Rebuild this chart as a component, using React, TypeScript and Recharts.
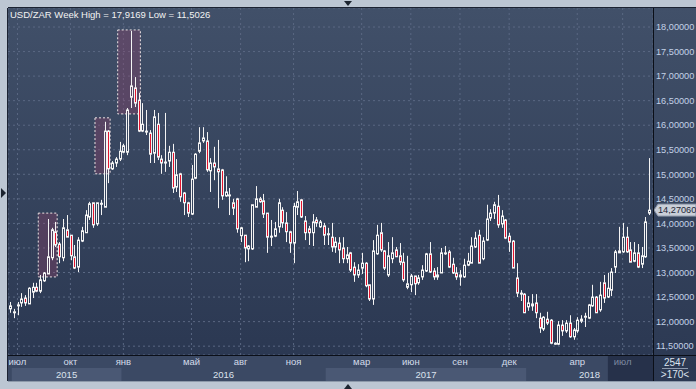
import React from 'react';
import { ComposedChart, Bar, XAxis, YAxis, CartesianGrid, ReferenceArea, ReferenceLine } from 'recharts';

// weekly USD/ZAR candles (Jun 2015 .. Aug 2018)
const OPEN = [
  12.26, 12.18, 12.32, 12.38, 12.48, 12.36, 12.60, 12.70, 12.62, 12.83,
  12.97, 13.30, 13.83, 13.58, 13.30, 13.87, 13.76, 13.32, 13.11, 13.64,
  13.81, 14.13, 14.42, 13.99, 14.40, 14.33, 15.88, 15.11, 15.23, 15.31,
  15.45, 15.45, 16.57, 16.76, 16.51, 15.88, 15.87, 15.84, 15.43, 16.02,
  15.31, 15.24, 15.27, 15.45, 14.74, 15.01, 14.62, 14.42, 14.19, 14.92,
  15.47, 15.68, 15.68, 15.07, 15.23, 15.11, 15.09, 14.56, 14.57, 14.42,
  14.50, 13.75, 13.76, 13.48, 13.48, 14.33, 14.50, 14.46, 14.21, 13.73,
  13.74, 13.93, 14.27, 14.01, 13.83, 13.60, 14.33, 14.48, 14.05, 13.89,
  13.81, 14.07, 13.93, 13.95, 13.78, 13.72, 13.52, 13.60, 13.50, 13.28,
  13.40, 13.11, 12.95, 13.09, 13.19, 12.75, 12.46, 13.38, 13.81, 13.44,
  12.95, 13.28, 13.46, 13.34, 13.21, 12.70, 12.75, 12.93, 12.79, 12.91,
  13.03, 13.38, 13.03, 12.91, 12.99, 13.38, 13.42, 13.17, 12.99, 12.95,
  12.91, 13.15, 13.19, 13.52, 13.76, 13.28, 13.66, 14.11, 14.21, 14.35,
  13.99, 14.07, 13.74, 13.64, 12.89, 12.57, 12.56, 12.30, 12.32, 12.38,
  12.07, 11.85, 12.05, 12.03, 11.55, 11.54, 11.93, 11.81, 11.97, 11.69,
  11.81, 12.01, 12.09, 12.07, 12.32, 12.50, 12.24, 12.79, 12.50, 12.64,
  13.11, 13.44, 13.42, 13.72, 13.46, 13.23, 13.40, 13.17, 13.32, 14.21,
];
const HIGH = [
  12.40, 12.26, 12.40, 12.58, 12.54, 12.70, 12.79, 12.79, 12.95, 13.01,
  14.09, 13.91, 14.03, 13.62, 14.09, 14.17, 13.76, 13.56, 13.72, 13.93,
  14.27, 14.44, 14.42, 14.42, 14.48, 16.07, 15.90, 15.27, 15.35, 15.66,
  15.62, 16.35, 17.92, 16.98, 16.66, 16.45, 16.31, 15.90, 16.31, 16.25,
  15.39, 16.25, 15.58, 15.62, 15.31, 15.03, 14.64, 14.44, 15.19, 15.43,
  15.96, 15.96, 15.86, 15.33, 15.56, 15.70, 15.11, 14.96, 14.72, 14.50,
  14.52, 13.93, 13.76, 13.56, 14.38, 14.76, 14.54, 14.60, 14.21, 14.07,
  14.03, 14.50, 14.33, 14.23, 13.85, 14.42, 14.66, 14.50, 14.15, 13.95,
  14.19, 14.13, 14.07, 14.01, 13.91, 14.01, 13.72, 13.72, 13.72, 13.52,
  13.42, 13.21, 13.17, 13.40, 13.21, 12.75, 13.66, 13.97, 14.01, 13.46,
  13.62, 13.72, 13.52, 13.60, 13.40, 13.34, 12.97, 12.93, 12.95, 13.15,
  13.40, 13.62, 13.09, 13.11, 13.50, 13.54, 13.46, 13.30, 13.11, 13.05,
  13.28, 13.40, 13.72, 13.83, 13.87, 13.72, 14.38, 14.29, 14.44, 14.58,
  14.27, 14.09, 13.81, 13.66, 13.19, 12.64, 12.58, 12.52, 12.56, 12.56,
  12.18, 12.11, 12.20, 12.05, 11.58, 12.01, 12.03, 12.03, 12.13, 11.87,
  12.09, 12.13, 12.18, 12.36, 12.75, 12.52, 12.81, 12.95, 12.99, 13.09,
  13.46, 13.93, 14.01, 13.93, 13.62, 13.62, 13.58, 13.52, 14.13, 15.33,
];
const LOW = [
  12.18, 12.07, 12.13, 12.30, 12.32, 12.36, 12.48, 12.60, 12.58, 12.81,
  12.97, 13.25, 13.52, 13.19, 13.23, 13.72, 13.25, 13.07, 13.01, 13.62,
  13.81, 14.07, 13.91, 13.95, 14.17, 14.33, 14.82, 15.09, 15.15, 15.27,
  15.43, 15.39, 16.35, 16.37, 15.86, 15.86, 15.80, 15.23, 15.23, 15.29,
  15.01, 15.05, 15.15, 14.62, 14.64, 14.44, 14.17, 14.13, 14.17, 14.90,
  15.43, 15.64, 15.05, 14.64, 14.88, 14.31, 14.48, 14.54, 14.17, 14.17,
  13.81, 13.62, 13.21, 13.23, 13.46, 14.33, 14.42, 14.11, 13.40, 13.54,
  13.72, 13.81, 13.91, 13.62, 13.40, 13.19, 14.17, 14.11, 13.66, 13.56,
  13.54, 13.93, 13.91, 13.56, 13.56, 13.42, 13.40, 13.19, 13.19, 13.19,
  13.01, 12.81, 12.89, 12.97, 12.70, 12.42, 12.34, 13.36, 13.42, 13.05,
  12.91, 13.19, 13.32, 13.15, 12.81, 12.66, 12.60, 12.54, 12.75, 12.85,
  13.01, 12.99, 12.85, 12.85, 12.99, 13.36, 13.09, 12.97, 12.85, 12.73,
  12.89, 13.13, 13.19, 13.50, 13.19, 13.25, 13.64, 14.05, 14.09, 13.91,
  13.91, 13.68, 13.42, 13.09, 12.50, 12.42, 12.18, 12.22, 12.22, 12.07,
  11.77, 11.81, 11.93, 11.54, 11.53, 11.52, 11.71, 11.77, 11.67, 11.63,
  11.77, 11.97, 11.89, 12.05, 12.30, 12.18, 12.20, 12.38, 12.48, 12.52,
  12.99, 13.40, 13.40, 13.40, 13.21, 13.21, 13.09, 13.09, 13.30, 14.17,
];
const CLOSE = [
  12.32, 12.20, 12.34, 12.46, 12.38, 12.68, 12.70, 12.62, 12.85, 12.99,
  13.32, 13.87, 13.56, 13.32, 13.91, 13.72, 13.34, 13.09, 13.66, 13.85,
  14.17, 14.40, 13.97, 14.42, 14.41, 15.88, 15.11, 15.23, 15.31, 15.47,
  15.58, 16.31, 16.80, 16.45, 15.88, 16.02, 15.88, 15.41, 16.17, 15.35,
  15.23, 15.25, 15.45, 14.72, 14.99, 14.54, 14.42, 14.21, 14.90, 15.41,
  15.64, 15.74, 15.09, 15.23, 15.15, 15.05, 14.56, 14.64, 14.58, 14.31,
  13.89, 13.91, 13.50, 13.54, 14.38, 14.50, 14.44, 14.19, 13.72, 13.74,
  13.89, 14.42, 14.01, 13.83, 13.60, 14.35, 14.44, 14.13, 13.81, 13.81,
  14.03, 14.01, 14.03, 13.76, 13.79, 13.52, 13.62, 13.46, 13.28, 13.36,
  13.05, 12.95, 13.05, 13.19, 12.73, 12.46, 13.44, 13.76, 13.46, 13.09,
  13.34, 13.40, 13.32, 13.21, 12.85, 12.77, 12.93, 12.77, 12.89, 13.05,
  13.38, 13.01, 12.91, 12.95, 13.40, 13.40, 13.11, 12.99, 12.91, 12.91,
  13.15, 13.23, 13.54, 13.70, 13.19, 13.64, 14.09, 14.21, 14.38, 13.97,
  14.15, 13.70, 13.62, 13.09, 12.58, 12.58, 12.18, 12.38, 12.36, 12.18,
  11.87, 12.09, 11.97, 11.56, 11.56, 11.93, 11.81, 11.97, 11.69, 11.83,
  12.03, 12.05, 12.11, 12.34, 12.50, 12.18, 12.54, 12.48, 12.68, 13.01,
  13.42, 13.40, 13.72, 13.42, 13.21, 13.40, 13.11, 13.34, 14.03, 14.27,
];

const Y_TICKS = [11.5, 12, 12.5, 13, 13.5, 14, 14.5, 15, 15.5, 16, 16.5, 17, 17.5, 18];
const MONTH_IDX = [2, 16, 30, 48, 61, 75, 93, 106, 119, 132, 150, 162];
const MONTH_LABELS = ['июл', 'окт', 'янв', 'май', 'авг', 'ноя', 'мар', 'июн', 'сен', 'дек', 'апр', 'июл'];
const YEAR_START = [1, 30, 84, 137];
const YEAR_END = [30, 84, 137, 170];
const YEAR_LABELS = ['2015', '2016', '2017', '2018'];

// highlighted patterns
const HL_FROM = [8, 23, 29];
const HL_TO = [12, 26, 34];
const HL_LOW = [12.91, 15.01, 16.23];
const HL_HIGH = [14.21, 16.15, 17.94];

const LAST_PRICE = 14.2706;
const TITLE = 'USD/ZAR Week High = 17,9169 Low = 11,5026';
const BAR_TOTAL = '2547';
const BAR_SHOWN = '>170<';

const data = OPEN.map((o, i) => ({ i, open: o, high: HIGH[i], low: LOW[i], close: CLOSE[i] }));

const W = 696;
const H = 389;
const PLOT_L = 8;
const PLOT_T = 8;
const PLOT_R = 653;
const PLOT_B = 355;
const PAD_R = 2;
const STEP = (PLOT_R - PLOT_L - PAD_R) / data.length;
const DARK_FROM = 158.6;
const FONT = '"Liberation Sans", Arial, sans-serif';

const fmt = (v: number) => v.toFixed(5).replace('.', ',');

function Candle(props: any) {
  const { x, y, width, height, payload } = props;
  const { open, close, high, low } = payload;
  const yHigh = height < 0 ? y + height : y;
  const h = Math.abs(height);
  const k = high === low ? 0 : h / (high - low);
  const yO = yHigh + (high - open) * k;
  const yC = yHigh + (high - close) * k;
  const top = Math.min(yO, yC);
  const bot = Math.max(yO, yC);
  const c = Math.round(x + width / 2);
  const up = close >= open;
  return (
    <g>
      {top > yHigh && <line x1={c + 0.5} x2={c + 0.5} y1={yHigh} y2={top} stroke="#f4f4f4" />}
      {bot < yHigh + h && <line x1={c + 0.5} x2={c + 0.5} y1={bot} y2={yHigh + h} stroke="#f4f4f4" />}
      <rect
        x={c - 0.5}
        y={top}
        width={2}
        height={Math.max(bot - top, 1)}
        fill={up ? 'none' : '#e3142e'}
        stroke="#f4f4f4"
        strokeWidth={1}
      />
    </g>
  );
}

function MonthTick(props: any) {
  const { x, y, payload } = props;
  const k = MONTH_IDX.indexOf(payload.value);
  const last = k === MONTH_IDX.length - 1;
  const dx = PLOT_L + DARK_FROM * STEP;
  return (
    <g>
      {last && <rect x={dx} y={y + 1} width={PLOT_R - dx} height={12} fill="#26314a" />}
      <text
        x={x}
        y={y + 10}
        textAnchor="middle"
        fontSize={9.5}
        fontFamily={FONT}
        fill={last ? '#7d89a0' : '#d3dcea'}
      >
        {MONTH_LABELS[k]}
      </text>
    </g>
  );
}

function YearTick(props: any) {
  const { x, y, payload } = props;
  const k = YEAR_START.indexOf(payload.value);
  const lastBand = k === YEAR_START.length - 1;
  const x0 = x - STEP / 2;
  const w = (YEAR_END[k] - YEAR_START[k]) * STEP + (lastBand ? PAD_R : 0);
  const dx = PLOT_L + DARK_FROM * STEP;
  return (
    <g>
      {k % 2 === 0 && <rect x={x0} y={y} width={w} height={13} fill="#4a5874" />}
      {lastBand && <rect x={dx} y={y} width={PLOT_R - dx} height={13} fill="#26314a" />}
      <text x={x0 + w / 2} y={y + 10} textAnchor="middle" fontSize={9.5} fontFamily={FONT} fill="#dbe3ee">
        {YEAR_LABELS[k]}
      </text>
    </g>
  );
}

function PriceTag(props: any) {
  const vb = props.viewBox || {};
  const x = vb.x + vb.width;
  const y = vb.y;
  return (
    <g>
      <polygon
        points={`${x + 1},${y} ${x + 5},${y - 6} ${W},${y - 6} ${W},${y + 6} ${x + 5},${y + 6}`}
        fill="#c9ced8"
        stroke="#8a94a6"
      />
      <text x={x + 5} y={y + 3.3} fontSize={9.2} fontFamily={FONT} fill="#1e2636">
        {fmt(LAST_PRICE)}
      </text>
    </g>
  );
}

export default function App() {
  return (
    <div style={{ position: 'fixed', left: 0, top: 0, width: W, height: H, background: '#bcc6d3', overflow: 'hidden' }}>
      <div
        style={{
          position: 'absolute', left: PLOT_L, top: PLOT_T, width: PLOT_R - PLOT_L, height: PLOT_B - PLOT_T,
          background: 'linear-gradient(#415069, #2b3852)',
        }}
      />
      <div
        style={{
          position: 'absolute', left: PLOT_R, top: PLOT_T, width: W - PLOT_R, height: 381 - PLOT_T,
          background: 'linear-gradient(#415069, #2b3852)',
        }}
      />
      <div style={{ position: 'absolute', left: PLOT_L, top: PLOT_B, width: PLOT_R - PLOT_L, height: 26, background: '#3b4964' }} />

      <div style={{ position: 'absolute', left: 0, top: 0 }}>
        <ComposedChart
          width={W}
          height={H}
          data={data}
          margin={{ top: PLOT_T, left: PLOT_L, right: 0, bottom: H - 381 }}
          barCategoryGap={0}
        >
          <CartesianGrid stroke="#5a6883" strokeDasharray="2 3" />
          <XAxis
            dataKey="i"
            type="category"
            ticks={MONTH_IDX}
            interval={0}
            tick={<MonthTick />}
            tickSize={0}
            tickMargin={0}
            height={13}
            axisLine={false}
            tickLine={false}
            padding={{ left: 0, right: PAD_R }}
          />
          <XAxis
            xAxisId="yr"
            dataKey="i"
            type="category"
            ticks={YEAR_START}
            interval={0}
            tick={<YearTick />}
            tickSize={0}
            tickMargin={0}
            height={13}
            axisLine={false}
            tickLine={false}
            padding={{ left: 0, right: PAD_R }}
          />
          <YAxis
            orientation="right"
            type="number"
            domain={[11.32, 18.387]}
            allowDataOverflow
            ticks={Y_TICKS}
            interval={0}
            tickFormatter={fmt}
            width={W - PLOT_R}
            tickSize={0}
            tickMargin={3}
            axisLine={false}
            tickLine={false}
            tick={{ fill: '#c3d1e7', fontSize: 9.2, fontFamily: FONT, textAnchor: 'start' }}
          />
          <Bar
            dataKey={(d: any) => [d.low, d.high]}
            shape={<Candle />}
            isAnimationActive={false}
          />
          {HL_FROM.map((x1, k) => (
            <ReferenceArea
              key={k}
              x1={x1}
              x2={HL_TO[k]}
              y1={HL_LOW[k]}
              y2={HL_HIGH[k]}
              fill="#a0406a"
              fillOpacity={0.3}
              stroke="#ece4e4"
              strokeDasharray="2 2"
              ifOverflow="visible"
            />
          ))}
          <ReferenceLine
            y={LAST_PRICE}
            stroke="none"
            ifOverflow="visible"
            label={<PriceTag />}
          />
        </ComposedChart>
      </div>

      <svg width={W} height={H} style={{ position: 'absolute', left: 0, top: 0, pointerEvents: 'none' }}>
        <text x={10} y={18} fontSize={9.5} fontFamily={FONT} fill="#f2f2f2">{TITLE}</text>
        <line x1={PLOT_L - 0.5} x2={PLOT_L - 0.5} y1={PLOT_T} y2={381} stroke="#1b2232" />
        <line x1={PLOT_L} x2={W} y1={PLOT_T - 0.5} y2={PLOT_T - 0.5} stroke="#1b2232" />
        <line x1={PLOT_R + 0.5} x2={PLOT_R + 0.5} y1={PLOT_T} y2={381} stroke="#0b0f18" />
        <line x1={PLOT_L} x2={W} y1={PLOT_B + 0.5} y2={PLOT_B + 0.5} stroke="#0b0f18" />
        <line x1={PLOT_L} x2={W} y1={381.5} y2={381.5} stroke="#8d99aa" />
        <text x={675} y={366} textAnchor="middle" fontSize={10} fontFamily={FONT} fill="#dbe3ee">{BAR_TOTAL}</text>
        <line x1={662} x2={688} y1={368.5} y2={368.5} stroke="#8d99ad" />
        <text x={675} y={378} textAnchor="middle" fontSize={10} fontFamily={FONT} fill="#dbe3ee">{BAR_SHOWN}</text>
        <polygon points="344,1 352,1 348,6" fill="#1c2430" />
        <polygon points="344,389 352,389 348,384" fill="#1c2430" />
        <polygon points="1,188 1,198 6,193" fill="#1c2430" />
      </svg>
    </div>
  );
}
